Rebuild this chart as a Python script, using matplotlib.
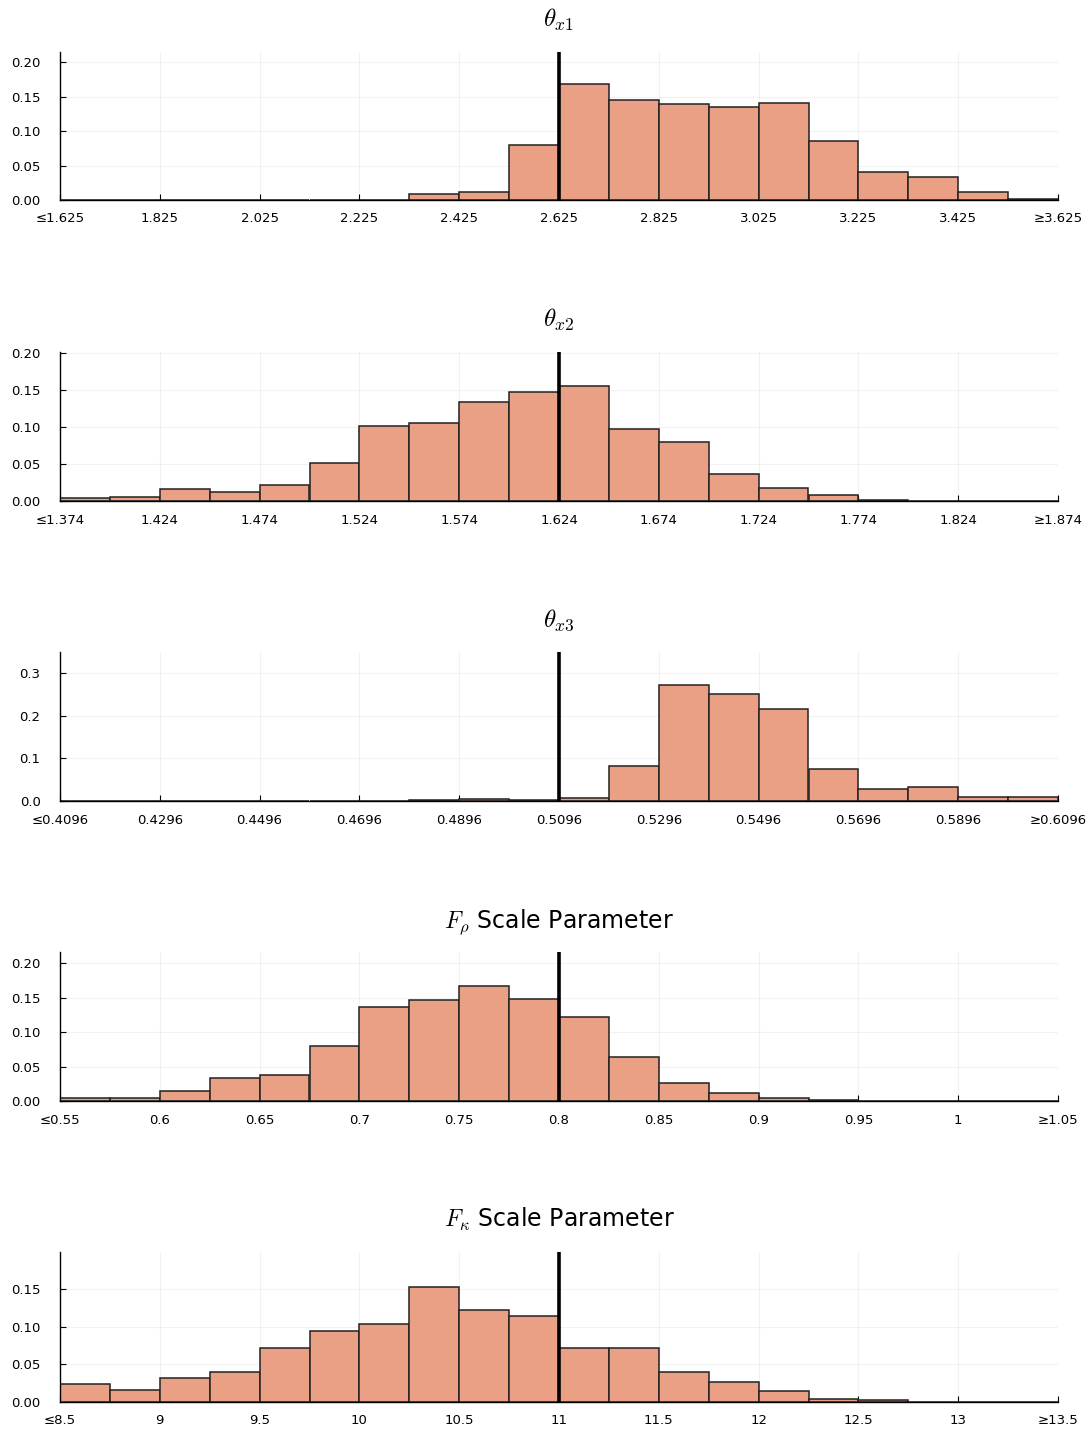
import numpy as np
import matplotlib
matplotlib.use("Agg")
import matplotlib.pyplot as plt

plt.rcParams["mathtext.fontset"] = "cm"
plt.rcParams["font.family"] = "DejaVu Sans"

# histogram probabilities per bin (20 bins each)
p_x1 = [0, 0, 0, 0, 0, 0, 0, 0.008, 0.012, 0.080, 0.169, 0.145, 0.139, 0.135,
        0.141, 0.086, 0.041, 0.033, 0.012, 0.002]
p_x2 = [0.004, 0.006, 0.016, 0.012, 0.022, 0.052, 0.102, 0.106, 0.134, 0.148,
        0.156, 0.098, 0.080, 0.036, 0.018, 0.008, 0.002, 0, 0, 0]
p_x3 = [0, 0, 0, 0, 0, 0, 0, 0.002, 0.005, 0.003, 0.008, 0.083, 0.272, 0.252,
        0.216, 0.075, 0.028, 0.032, 0.010, 0.010]
p_rho = [0.004, 0.004, 0.014, 0.034, 0.038, 0.080, 0.136, 0.146, 0.166, 0.148,
         0.122, 0.064, 0.026, 0.012, 0.004, 0.002, 0, 0, 0, 0]
p_kappa = [0.024, 0.016, 0.032, 0.040, 0.072, 0.094, 0.104, 0.152, 0.122, 0.114,
           0.072, 0.072, 0.040, 0.026, 0.014, 0.004, 0.002, 0, 0, 0]

# x range (low, high) and true value marked by the vertical line
ranges = [(1.625, 3.625), (1.374, 1.874), (0.4096, 0.6096), (0.55, 1.05), (8.5, 13.5)]
true_vals = [2.625, 1.624, 0.5096, 0.8, 11.0]
tick_fmt = ["{:.3f}", "{:.3f}", "{:.4f}", "{:g}", "{:g}"]
y_tops = [0.215, 0.202, 0.35, 0.216, 0.199]
y_ticks = [[0, 0.05, 0.10, 0.15, 0.20], [0, 0.05, 0.10, 0.15, 0.20],
           [0, 0.1, 0.2, 0.3], [0, 0.05, 0.10, 0.15, 0.20], [0, 0.05, 0.10, 0.15]]
y_fmt = ["{:.2f}", "{:.2f}", "{:.1f}", "{:.2f}", "{:.2f}"]
titles = [r"$\theta_{x1}$", r"$\theta_{x2}$", r"$\theta_{x3}$",
          r"$F_\rho$ Scale Parameter", r"$F_\kappa$ Scale Parameter"]
probs = [p_x1, p_x2, p_x3, p_rho, p_kappa]

W, H = 1091, 1434
fig = plt.figure(figsize=(W / 100, H / 100), dpi=100)

# axes pixel boxes (top, bottom)
boxes = [(52, 200), (352, 501), (652, 801), (952, 1101), (1252, 1402)]
left, right = 60, 1058

for i in range(5):
    top, bot = boxes[i]
    ax = fig.add_axes([left / W, 1 - bot / H, (right - left) / W, (bot - top) / H])
    lo, hi = ranges[i]
    edges = np.linspace(lo, hi, 21)
    ax.bar(edges[:-1], probs[i], width=np.diff(edges), align="edge",
           color="#e9a085", edgecolor="#222222", linewidth=1.1, zorder=2)
    ax.plot([true_vals[i], true_vals[i]], [0, y_tops[i]], color="black", lw=2.6, zorder=3)
    ax.set_xlim(lo, hi)
    ax.set_ylim(0, y_tops[i])

    xt = np.linspace(lo, hi, 11)
    xl = [tick_fmt[i].format(v) for v in xt]
    xl[0] = "\u2264" + xl[0]
    xl[-1] = "\u2265" + xl[-1]
    ax.set_xticks(xt)
    ax.set_xticklabels(xl)
    ax.set_yticks(y_ticks[i])
    ax.set_yticklabels([y_fmt[i].format(v) for v in y_ticks[i]])

    ax.tick_params(direction="in", length=4, width=0.8, labelsize=9.5, colors="black")
    ax.tick_params(axis="x", pad=9)
    ax.tick_params(axis="y", pad=14)
    ax.grid(True, color="#000000", alpha=0.05, lw=0.8, zorder=0)
    ax.set_axisbelow(True)
    for s in ["top", "right"]:
        ax.spines[s].set_visible(False)
    for s in ["left", "bottom"]:
        ax.spines[s].set_linewidth(1.0)
    if i < 3:
        ax.set_title(titles[i], fontsize=18, pad=18)
    else:
        ax.set_title(titles[i], fontsize=17, pad=18)

fig.savefig("out.png", dpi=100)
